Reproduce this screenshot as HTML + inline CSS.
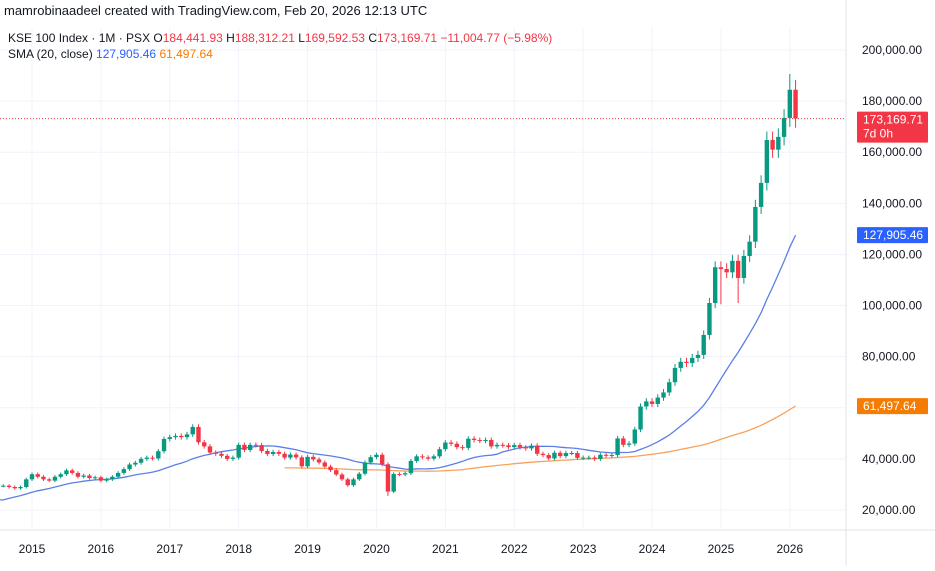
<!DOCTYPE html>
<html><head><meta charset="utf-8"><style>
body{margin:0;background:#fff;font-family:"Liberation Sans",Arial,sans-serif;}
svg text{font-family:"Liberation Sans",Arial,sans-serif;}
</style></head><body>
<svg id="c" width="935" height="566" viewBox="0 0 935 566" xmlns="http://www.w3.org/2000/svg">
<rect x="0" y="0" width="935" height="566" fill="#fff"/>
<g id="grid"></g>
<defs><clipPath id="plot"><rect x="0" y="28" width="846" height="500"/></clipPath></defs>
<g id="marks" clip-path="url(#plot)"></g>
<g id="axes"></g>
<text x="4" y="15" font-size="13" fill="#131722">mamrobinaadeel created with TradingView.com, Feb 20, 2026 12:13 UTC</text>
<text x="8" y="42" font-size="12" fill="#131722">KSE 100 Index · 1M · PSX <tspan fill="#131722">O</tspan><tspan fill="#f23645">184,441.93</tspan>  <tspan fill="#131722">H</tspan><tspan fill="#f23645">188,312.21</tspan>  <tspan fill="#131722">L</tspan><tspan fill="#f23645">169,592.53</tspan>  <tspan fill="#131722">C</tspan><tspan fill="#f23645">173,169.71  −11,004.77 (−5.98%)</tspan></text>
<text x="8" y="58" font-size="12" fill="#131722">SMA (20, close)  <tspan fill="#2962ff">127,905.46</tspan>  <tspan fill="#f57c00">61,497.64</tspan></text>
</svg>
<script>
// monthly closes (thousands), starting Jun 2010
const startYear = 2010, startMonth = 5;
const closes = [
42,42,42,42,42,42,42,
42,42,42,42,42,42,42,42,42,42,42,42,
42,42,42,42,42,42,40,38,36,34,32,30,
17.2,18.0,18.0,19.0,20.9,21.2,23.4,22.0,21.8,22.7,23.7,25.3,
26.8,26.4,27.2,28.0,29.0,29.6,29.5,29.5,29,28.5,29,32,
34,33,32,31.5,33,34,35.5,34.5,33,33.5,32.5,32.8,
31.5,32,33,34.5,36,37.8,38.5,40,40.5,40.2,43,47.8,
48.5,49,48.5,49.6,52.5,46.5,44.9,42.5,42,41.2,40,40.5,
45.5,43.5,45.5,45.4,43.1,41.9,42.7,42,40.5,41.7,40.6,37.1,
40.8,39.8,38.6,37,35.6,33.9,32,29.7,32,34.2,38.6,40.7,
41.6,37.9,27.2,34.1,33.9,34.4,39.2,41,40.6,40.1,41,43.8,
46.4,45.9,44.6,44.3,47.9,47.4,47.1,47.4,44.9,45.5,45.3,44.6,
45.4,44.5,44.1,45.2,42,41.5,40.2,42.4,41.1,42.3,42.3,40.4,
40.5,40.5,40,41.6,41.3,41.5,48,45.5,46,51.5,60.5,62.5,
61.5,64,66,70,75.6,78,77.5,79.5,80.7,88.5,101,115,
114.3,113,117.5,110.8,119.4,125,138.6,148,164.8,161,166,173.4,
184.44,173.17
];
const highOverride = {187:190.6,188:188.31};
const lowOverride = {188:169.59,178:101,117:25.5,175:100.5};
const yTicks = [20,40,60,80,100,120,140,160,180,200];
const xYears = [2015,2016,2017,2018,2019,2020,2021,2022,2023,2024,2025,2026];
const sma20Last = "127,905.46", sma100Last = "61,497.64", lastPrice = "173,169.71";

const NS="http://www.w3.org/2000/svg";
function y(v){return 50+(200-v)/180*460;}
function xm(i){const m=(startYear-2015)*12+startMonth+i;return 32+m*5.741;}
function xy(yr){return 32+(yr-2015)*12*5.741;}
function mk(t,a,p){const e=document.createElementNS(NS,t);for(const k in a)e.setAttribute(k,a[k]);p.appendChild(e);return e;}
const grid=document.getElementById('grid'),marks=document.getElementById('marks'),axes=document.getElementById('axes');
yTicks.forEach(v=>{
 const l=mk('line',{x1:0,x2:846,y1:y(v),y2:y(v),stroke:'#f0f3fa','stroke-width':1},grid);
 
 
 const t=mk('text',{x:862,y:y(v)+4,'font-size':12,fill:'#131722'},axes);
 t.textContent=(v*1000).toLocaleString('en-US')+'.00';
 
 
});
xYears.forEach(yr=>{
 const l=mk('line',{x1:xy(yr),x2:xy(yr),y1:28,y2:528,stroke:'#f0f3fa','stroke-width':1},grid);
 
 
 const t=mk('text',{x:xy(yr),y:553,'font-size':12,fill:'#131722','text-anchor':'middle'},axes);
 t.textContent=yr;
 
 
});
mk('line',{x1:846,x2:846,y1:0,y2:566,stroke:'#e0e3eb'},grid);
mk('line',{x1:0,x2:935,y1:530,y2:530,stroke:'#e0e3eb'},grid);
function sma(n){const out=[];for(let i=0;i<closes.length;i++){if(i<n-1){out.push(null);continue;}let s=0;for(let j=i-n+1;j<=i;j++)s+=closes[j];out.push(s/n);}return out;}
function drawLine(arr,color,name){let d='';arr.forEach((v,i)=>{if(v==null)return;d+=(d?'L':'M')+xm(i).toFixed(1)+','+y(v).toFixed(1);});const p=mk('path',{d:d,fill:'none',stroke:color,'stroke-width':1.3},marks);}
const s20=sma(20),s100=sma(100);
drawLine(s100,'#f7a35c','sma-100-line');
drawLine(s20,'#5b7fe6','sma-20-line');
for(let i=1;i<closes.length;i++){
 const o=closes[i-1],c=closes[i],up=c>=o,col=up?'#089981':'#f23645';
 const hi=highOverride[i]!==undefined?highOverride[i]:Math.max(o,c)*1.02;
 const lo=lowOverride[i]!==undefined?lowOverride[i]:Math.min(o,c)*0.98;
 const x=xm(i);
 const g=mk('g',{},marks);
 
 
 mk('line',{x1:x,x2:x,y1:y(hi),y2:y(lo),stroke:col,'stroke-width':1},g);
 const top=y(Math.max(o,c)),bot=y(Math.min(o,c));
 mk('rect',{x:x-2.2,y:top,width:4.4,height:Math.max(1,bot-top),fill:col},g);
}
const lp=y(closes[closes.length-1]);
const pl=mk('line',{x1:0,x2:846,y1:lp,y2:lp,stroke:'#f23645','stroke-width':1,'stroke-dasharray':'1,2'},axes);


function tag(v,color,txt,name,h){const r=mk('rect',{x:857,y:v-8,width:71,height:h,fill:color,rx:1},axes);const t=mk('text',{x:863,y:v+4,'font-size':12,fill:'#fff'},axes);t.textContent=txt;return r;}
tag(lp+1,'#f23645',lastPrice,'last-price-tag',31);
const cd=mk('text',{x:863,y:lp+19,'font-size':12,fill:'#fff'},axes);cd.textContent='7d 0h';


tag(y(s20[s20.length-1]),'#2962ff',sma20Last,'sma20-tag',16);
tag(y(s100[s100.length-1]),'#f57c00',sma100Last,'sma100-tag',16);
</script>
</body></html>
